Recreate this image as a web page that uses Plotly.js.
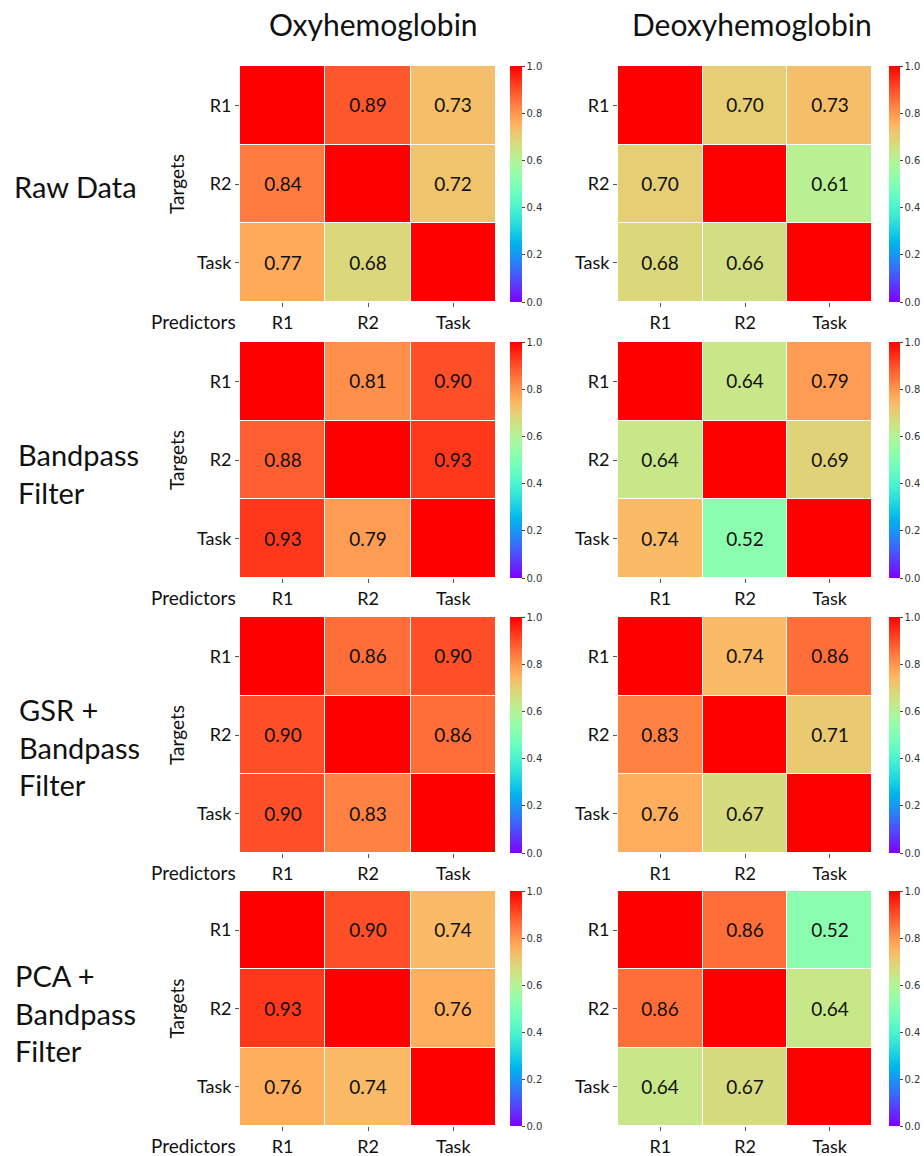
<!DOCTYPE html>
<html>
<head>
<meta charset="utf-8">
<script src="https://cdn.plot.ly/plotly-3.0.1.min.js"></script>
<style>html,body{margin:0;padding:0;background:#fff;}#chart{width:924px;height:1156px;}</style>
</head>
<body>
<div id="chart"></div>
<script>
// ---- data ----
const predictors = ['R1', 'R2', 'Task'];
const targets = ['R1', 'R2', 'Task'];
const columnTitles = ['Oxyhemoglobin', 'Deoxyhemoglobin'];
const rowTitles = ['Raw Data', 'Bandpass<br>Filter', 'GSR +<br>Bandpass<br>Filter', 'PCA +<br>Bandpass<br>Filter'];

const oxyRaw       = [[1.00, 0.89, 0.73], [0.84, 1.00, 0.72], [0.77, 0.68, 1.00]];
const deoxyRaw     = [[1.00, 0.70, 0.73], [0.70, 1.00, 0.61], [0.68, 0.66, 1.00]];
const oxyBandpass  = [[1.00, 0.81, 0.90], [0.88, 1.00, 0.93], [0.93, 0.79, 1.00]];
const deoxyBandpass= [[1.00, 0.64, 0.79], [0.64, 1.00, 0.69], [0.74, 0.52, 1.00]];
const oxyGSR       = [[1.00, 0.86, 0.90], [0.90, 1.00, 0.86], [0.90, 0.83, 1.00]];
const deoxyGSR     = [[1.00, 0.74, 0.86], [0.83, 1.00, 0.71], [0.76, 0.67, 1.00]];
const oxyPCA       = [[1.00, 0.90, 0.74], [0.93, 1.00, 0.76], [0.76, 0.74, 1.00]];
const deoxyPCA     = [[1.00, 0.86, 0.52], [0.86, 1.00, 0.64], [0.64, 0.67, 1.00]];
const colorbarTicks = [0, 0.2, 0.4, 0.6, 0.8, 1.0];

const panels = [
  [oxyRaw, deoxyRaw],
  [oxyBandpass, deoxyBandpass],
  [oxyGSR, deoxyGSR],
  [oxyPCA, deoxyPCA]
];

// ---- style / layout ----
const W = 924, H = 1156;
const FONT = 'Lato, "Open Sans", sans-serif';
// rainbow-like colorscale (matplotlib "rainbow")
const rainbow = [];
for (let i = 0; i <= 40; i++) {
  const t = i / 40;
  const r = Math.min(1, Math.abs(2 * t - 0.5));
  const g = Math.sin(Math.PI * t);
  const b = Math.cos(Math.PI / 2 * t);
  rainbow.push([t, `rgb(${Math.round(r*255)},${Math.round(Math.max(0,g)*255)},${Math.round(Math.max(0,b)*255)})`]);
}

const colX = [[240, 496], [618, 872]];
const cbX = [510, 889];
const rowY = [[66, 302], [342, 578], [617, 853], [891, 1126]];
const px = v => v / W;
const py = v => 1 - v / H;

const data = [];
const layout = {
  width: W, height: H,
  margin: {l: 0, r: 0, t: 0, b: 0},
  paper_bgcolor: '#fff', plot_bgcolor: '#fff',
  showlegend: false,
  annotations: [],
  font: {family: FONT, color: '#111'}
};

panels.forEach((rowPanels, r) => {
  rowPanels.forEach((z, c) => {
    const n = r * 2 + c + 1;
    const xa = n === 1 ? 'x' : 'x' + n;
    const ya = n === 1 ? 'y' : 'y' + n;
    const text = z.map((row, i) => row.map((v, j) => i === j ? '' : v.toFixed(2)));
    data.push({
      type: 'heatmap',
      z: z, x: predictors, y: targets,
      text: text, texttemplate: '%{text}',
      textfont: {family: FONT, size: 19, color: '#111'},
      xaxis: xa, yaxis: ya,
      zmin: 0, zmax: 1,
      colorscale: rainbow,
      xgap: 1, ygap: 1,
      hoverinfo: 'skip',
      colorbar: {
        x: px(cbX[c]), xanchor: 'left', xref: 'paper',
        y: py((rowY[r][0] + rowY[r][1]) / 2), yanchor: 'middle', yref: 'paper',
        len: (rowY[r][1] - rowY[r][0]) / H, lenmode: 'fraction',
        thickness: c === 0 ? 12 : 11, thicknessmode: 'pixels',
        outlinewidth: 0,
        tickvals: colorbarTicks, tickformat: '.1f',
        ticks: 'outside', ticklen: 3, tickwidth: 1, tickcolor: '#444',
        tickfont: {family: 'DejaVu Sans', size: 10, color: '#333'},
        xpad: 0, ypad: 0
      }
    });
    const xKey = n === 1 ? 'xaxis' : 'xaxis' + n;
    const yKey = n === 1 ? 'yaxis' : 'yaxis' + n;
    layout[xKey] = {
      domain: [px(colX[c][0]), px(colX[c][1])],
      anchor: ya, type: 'category',
      showgrid: false, zeroline: false, showline: false,
      ticks: 'outside', ticklen: 4, tickcolor: '#555',
      tickfont: {family: FONT, size: 18, color: '#111'},
      fixedrange: true
    };
    layout[yKey] = {
      domain: [py(rowY[r][1]), py(rowY[r][0])],
      anchor: xa, type: 'category', autorange: 'reversed',
      showgrid: false, zeroline: false, showline: false,
      ticks: 'outside', ticklen: 4, tickcolor: '#555',
      tickfont: {family: FONT, size: 18, color: '#111'},
      fixedrange: true
    };
  });

  // "Targets" and "Predictors" labels (left column only)
  layout.annotations.push({
    text: 'Targets', xref: 'paper', yref: 'paper',
    x: px(176), y: py((rowY[r][0] + rowY[r][1]) / 2),
    xanchor: 'center', yanchor: 'middle', textangle: -90, showarrow: false,
    font: {family: FONT, size: 19, color: '#111'}
  });
  layout.annotations.push({
    text: 'Predictors', xref: 'paper', yref: 'paper',
    x: px(238), y: py(rowY[r][1] + 19),
    xanchor: 'right', yanchor: 'middle', showarrow: false,
    font: {family: FONT, size: 19, color: '#111'}
  });
});

// row titles
const rowTitleY = [187, 473, 747, 1013];
const rowTitleX = [12, 16, 17, 13];
rowTitles.forEach((t, r) => {
  layout.annotations.push({
    text: t, xref: 'paper', yref: 'paper',
    x: px(rowTitleX[r]), y: py(rowTitleY[r]),
    xanchor: 'left', yanchor: 'middle', align: 'left', showarrow: false,
    font: {family: FONT, size: 29, color: '#111'}
  });
});

// column titles
const colTitleX = [373, 752];
columnTitles.forEach((t, c) => {
  layout.annotations.push({
    text: t, xref: 'paper', yref: 'paper',
    x: px(colTitleX[c]), y: py(24),
    xanchor: 'center', yanchor: 'middle', showarrow: false,
    font: {family: FONT, size: 30, color: '#111'}
  });
});

Plotly.newPlot('chart', data, layout, {staticPlot: true, displayModeBar: false});
</script>
</body>
</html>
